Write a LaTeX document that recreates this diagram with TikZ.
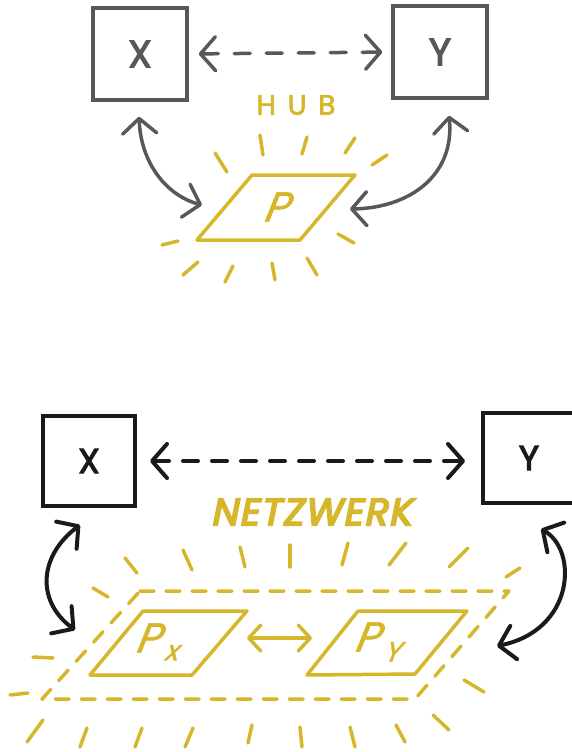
\documentclass[tikz,border=0pt]{standalone}
\usepackage{fontspec}
\setmainfont{Poppins}
\newfontfamily\boxfont[FakeBold=3]{Poppins}
\newfontfamily\slantfont[FakeSlant=0.4,FakeBold=1.5]{Poppins}
\newfontfamily\handfont[FakeSlant=0.2,FakeBold=5,LetterSpace=4]{Poppins}
\newfontfamily\spacedfont[LetterSpace=42,FakeBold=2.5]{Poppins}
\usetikzlibrary{arrows.meta, positioning}
\definecolor{hubgray}{RGB}{88,88,88}
\definecolor{inkblack}{RGB}{26,26,26}
\definecolor{gold}{RGB}{214,182,42}

\begin{document}
\begin{tikzpicture}[x=1pt, y=-1pt,
        >={Straight Barb[length=15pt, width=34pt, round]},
        hubbox/.style={draw=hubgray, line width=3.5pt, minimum width=94pt, minimum height=92pt,
            inner sep=0pt, text=hubgray, font=\boxfont\fontsize{38}{38}\selectfont},
        netbox/.style={draw=inkblack, line width=4pt, minimum width=92pt, minimum height=90pt,
            inner sep=0pt, text=inkblack, font=\boxfont\fontsize{35}{35}\selectfont},
        grayarrow/.style={<->, draw=hubgray, line width=3.5pt, line cap=round},
        blackarrow/.style={<->, draw=inkblack, line width=4pt, line cap=round},
        goldline/.style={draw=gold, line width=3.5pt, line join=round, line cap=round},
        goldray/.style={draw=gold, line width=3.5pt, line cap=round},
        goldarrow/.style={{Straight Barb[length=12pt, width=26pt, round]}-{Straight Barb[length=12pt, width=26pt, round]},
            draw=gold, line width=3.5pt, line cap=round},
        labelP/.style={text=gold, inner sep=0pt, font=\slantfont\fontsize{42}{42}\selectfont},
        subP/.style={text=gold, inner sep=0pt, anchor=north west, font=\slantfont\fontsize{28}{28}\selectfont}
    ]
    \useasboundingbox (0,0) rectangle (571,752);

    % hub: boxes
    \node[hubbox] (x1) at (140,54) {X};
    \node[hubbox] (y1) at (440,52) {Y};
    \node[text=gold, font=\spacedfont\fontsize{28}{28}\selectfont] (hub) at (296,105) {HUB};

    % hub: platform
    \draw[goldline] (252,175) -- (355,175) -- (300,240) -- (197,240) -- cycle;
    \node[labelP] (p) at (274,207) {P};
    \coordinate (pw) at (202,205);
    \coordinate (pe) at (350,209);

    % hub: rays
    \foreach \a/\b/\c/\d in {215/153/227/172, 260/135/263/155, 307/137/302/154, 355/138/345/153,
        387/155/372/165, 162/245/178/241, 338/234/354/243, 183/275/198/262,
        225/282/233/266, 272/263/275/280, 307/258/317/275}
        \draw[goldray] (\a,\b) -- (\c,\d);

    % hub: connectors
    \draw[grayarrow, dash pattern=on 16pt off 16pt, shorten <=10pt, shorten >=9pt] (x1.east) -- (y1.west);
    \draw[grayarrow] ([xshift=-1pt, yshift=-15pt]x1.south) .. controls (141,165) and (168,196) .. (pw);
    \draw[grayarrow] ([xshift=9pt, yshift=-16pt]y1.south) .. controls (455,175) and (410,208) .. (pe);

    % network: boxes
    \node[netbox] (x2) at (89,461) {X};
    \node[netbox] (y2) at (529,458) {Y};
    \node[text=gold, font=\handfont\fontsize{38}{38}\selectfont] (net) at (311,512) {NETZWERK};

    % network: platforms
    \draw[goldline, dash pattern=on 14pt off 12pt] (140,591) -- (509,591) -- (415,699) -- (42,699) -- cycle;
    \draw[goldline] (143,611) -- (247,611) -- (192,675) -- (90,675) -- cycle;
    \draw[goldline] (358,611) -- (467,611) -- (415,674) -- (307,675) -- cycle;
    \node[labelP] (px) at (146,638) {P};
    \node[subP] (pxs) at ([xshift=5pt, yshift=8pt]px.south east) {x};
    \node[labelP] (py) at (365,637) {P};
    \node[subP] (pys) at ([xshift=5pt, yshift=10pt]py.south east) {Y};
    \coordinate (pxe) at (247,638);
    \coordinate (pyw) at (312,638);
    \coordinate (pxw) at (75,630);
    \coordinate (pye) at (497,646);

    % network: rays
    \foreach \a/\b/\c/\d in {125/558/137/573, 183/550/192/570, 240/547/245/567, 290/545/290/567,
        348/543/342/565, 406/543/389/565, 468/548/449/567, 520/568/506/577, 93/588/108/597,
        33/657/53/658, 10/695/28/693, 464/680/484/692,
        43/720/27/742, 87/728/80/747, 142/728/135/747, 193/728/185/747, 252/725/248/743,
        300/727/302/747, 350/727/355/747, 396/725/405/742, 433/715/449/730}
        \draw[goldray] (\a,\b) -- (\c,\d);

    % network: connectors
    \draw[blackarrow, dash pattern=on 15pt off 14pt, shorten <=13pt, shorten >=16pt] (x2.east) -- (x2.east -| y2.west);
    \draw[goldarrow] (pxe) -- (pyw);
    \draw[blackarrow] ([xshift=-9pt, yshift=-17pt]x2.south) .. controls (40,555) and (35,600) .. (pxw);
    \draw[blackarrow] ([xshift=12pt, yshift=-24pt]y2.south) .. controls (578,550) and (575,630) .. (pye);

\end{tikzpicture}
\end{document}
